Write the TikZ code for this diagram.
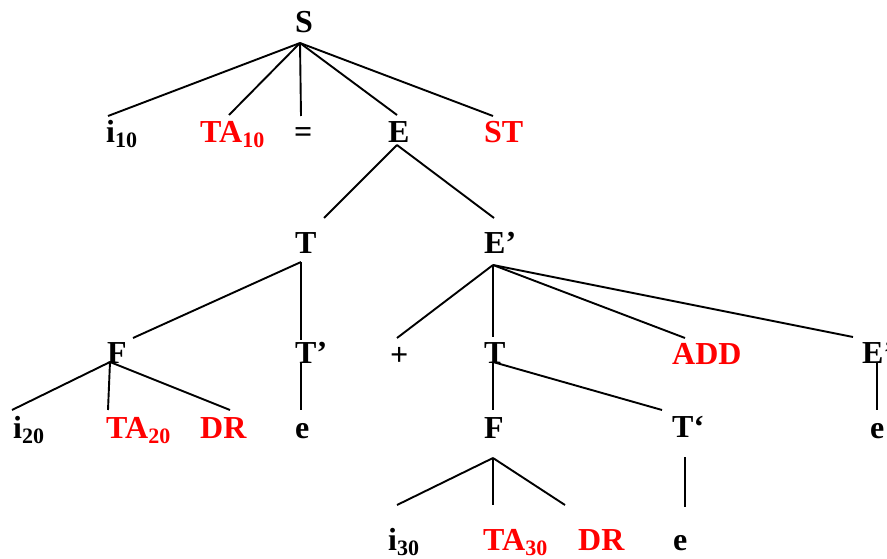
\documentclass[tikz,border=0pt]{standalone}
\usepackage{fontspec}
\setmainfont{Liberation Serif}
\newcommand{\sbx}[1]{\raisebox{-5pt}{\fontsize{22}{24}\selectfont\bfseries #1}}
\begin{document}
\begin{tikzpicture}[x=1pt,y=-1pt,
  lbl/.style={inner sep=0pt, anchor=base west, font=\fontsize{32}{36}\selectfont\bfseries},
  red/.style={text=red},
  edge/.style={line width=1.9pt, black}]
\useasboundingbox[fill=white] (0,0) rectangle (887,559);
% row 1
\node[lbl] (S) at (295,33) {S};
% row 2
\node[lbl] (i10) at (106,143) {i\sbx{10}};
\node[lbl,red] (TA10) at (200,143) {TA\sbx{10}};
\node[lbl] (eq) at (294,143) {=};
\node[lbl] (E) at (388,143) {E};
\node[lbl,red] (ST) at (484,143) {ST};
% row 3
\node[lbl] (T1) at (295,253) {T};
\node[lbl] (Ep1) at (484,253) {E’};
% row 4
\node[lbl] (F1) at (107,363) {F};
\node[lbl] (Tp1) at (295,363) {T’};
\node[lbl] (plus) at (390,365) {+};
\node[lbl] (T2) at (484,363) {T};
\node[lbl,red] (ADD) at (672,364) {ADD};
\node[lbl] (Ep2) at (862,363) {E’};
% row 5
\node[lbl] (i20) at (13,438) {i\sbx{20}};
\node[lbl,red] (TA20) at (106,438) {TA\sbx{20}};
\node[lbl,red] (DR1) at (200,438) {DR};
\node[lbl] (e1) at (295,438) {e};
\node[lbl] (F2) at (484,438) {F};
\node[lbl] (Tp2) at (672,437) {T‘};
\node[lbl] (e2) at (870,438) {e};
% row 6
\node[lbl] (i30) at (388,550) {i\sbx{30}};
\node[lbl,red] (TA30) at (483,550) {TA\sbx{30}};
\node[lbl,red] (DR2) at (578,550) {DR};
\node[lbl] (e3) at (673,550) {e};
% connector points
\coordinate (S-b) at (300,43);
\coordinate (i10-t) at (108,116);
\coordinate (TA10-t) at (229,115);
\coordinate (eq-t) at (301,116);
\coordinate (E-t) at (397,115);
\coordinate (ST-t) at (493,116);
\coordinate (E-b) at (397,145);
\coordinate (T1-t) at (324,218);
\coordinate (Ep1-t) at (494,218);
\coordinate (T1-b) at (301,262);
\coordinate (F1-t) at (133,338);
\coordinate (Tp1-t) at (301,340);
\coordinate (Tp1-b) at (301,363);
\coordinate (e1-t) at (301,410);
\coordinate (Ep1-b) at (493,265);
\coordinate (plus-t) at (397,338);
\coordinate (T2-t) at (493,337);
\coordinate (ADD-t) at (685,338);
\coordinate (Ep2-t) at (853,337);
\coordinate (F1-b) at (110,362);
\coordinate (i20-t) at (12,410);
\coordinate (TA20-t) at (108,410);
\coordinate (DR1-t) at (230,410);
\coordinate (T2-b) at (493,362);
\coordinate (F2-t) at (493,410);
\coordinate (Tp2-t) at (662,410);
\coordinate (Ep2-b) at (877,363);
\coordinate (e2-t) at (877,410);
\coordinate (Tp2-b) at (685,457);
\coordinate (e3-t) at (685,507);
\coordinate (F2-b) at (493,458);
\coordinate (i30-t) at (397,505);
\coordinate (TA30-t) at (493,505);
\coordinate (DR2-t) at (565,505);
% connectors
\foreach \c in {i10-t,TA10-t,eq-t,E-t,ST-t} \draw[edge] (S-b) -- (\c);
\foreach \c in {T1-t,Ep1-t} \draw[edge] (E-b) -- (\c);
\foreach \c in {F1-t,Tp1-t} \draw[edge] (T1-b) -- (\c);
\draw[edge] (Tp1-b) -- (e1-t);
\foreach \c in {plus-t,T2-t,ADD-t,Ep2-t} \draw[edge] (Ep1-b) -- (\c);
\foreach \c in {i20-t,TA20-t,DR1-t} \draw[edge] (F1-b) -- (\c);
\foreach \c in {F2-t,Tp2-t} \draw[edge] (T2-b) -- (\c);
\draw[edge] (Ep2-b) -- (e2-t);
\draw[edge] (Tp2-b) -- (e3-t);
\foreach \c in {i30-t,TA30-t,DR2-t} \draw[edge] (F2-b) -- (\c);
\end{tikzpicture}
\end{document}
